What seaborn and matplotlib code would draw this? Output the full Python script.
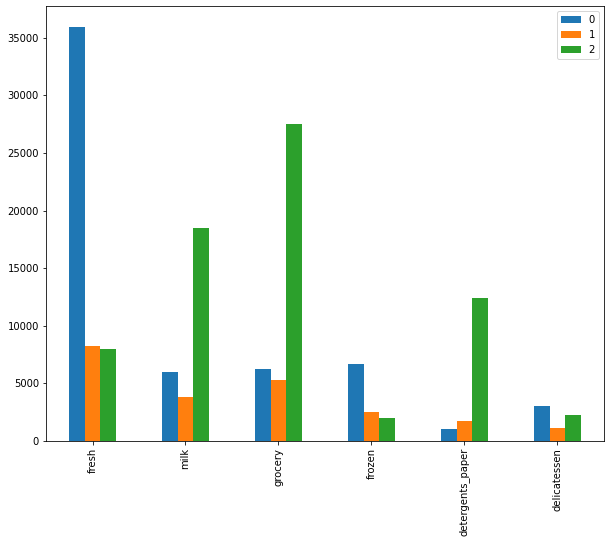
import pandas as pd
import numpy as np
import matplotlib
matplotlib.use('Agg')
import matplotlib.pyplot as plt
import seaborn as sns

# category names (x axis)
categories = ['fresh', 'milk', 'grocery', 'frozen', 'detergents_paper', 'delicatessen']

# cluster means
cluster_0 = [35950, 6000, 6250, 6690, 1040, 3040]
cluster_1 = [8250, 3820, 5300, 2520, 1740, 1130]
cluster_2 = [8000, 18480, 27550, 2000, 12430, 2260]

series_names = ['0', '1', '2']
colors = ['#1f77b4', '#ff7f0e', '#2ca02c']


def main():
    rows = []
    for name, vals in zip(series_names, [cluster_0, cluster_1, cluster_2]):
        for cat, v in zip(categories, vals):
            rows.append({'feature': cat, 'cluster': name, 'value': v})
    df = pd.DataFrame(rows)

    fig = plt.figure(figsize=(610 / 72, 544 / 72), dpi=72)
    ax = fig.add_axes([46 / 610, (544 - 441) / 544, (604 - 46) / 610, (441 - 6) / 544])

    sns.barplot(data=df, x='feature', y='value', hue='cluster', order=categories,
                hue_order=series_names, palette=colors, width=0.5, saturation=1,
                errorbar=None, ax=ax)

    ax.set_xlim(-0.5, len(categories) - 0.5)
    ax.set_ylim(0, max(cluster_0 + cluster_1 + cluster_2) * 1.05)
    ax.set_xlabel('')
    ax.set_ylabel('')
    ax.tick_params(axis='x', labelrotation=90)
    ax.legend(loc='upper right', title=None)

    fig.savefig('out.png', dpi=72)


if __name__ == '__main__':
    main()
